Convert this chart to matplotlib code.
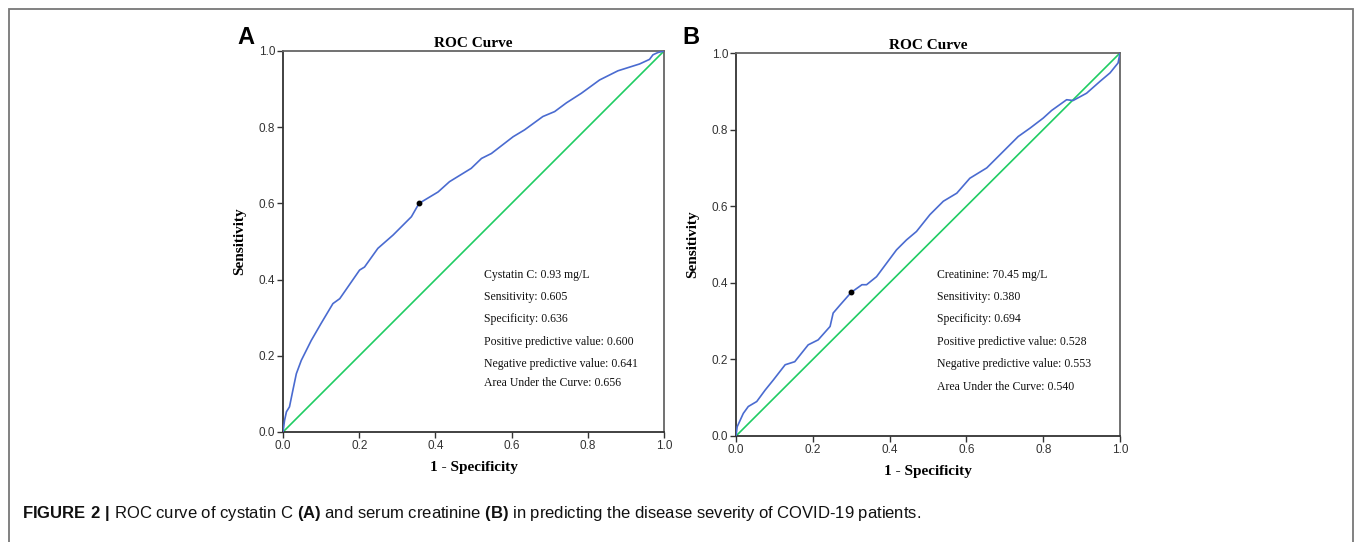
import matplotlib
matplotlib.use("Agg")
import matplotlib.pyplot as plt
from matplotlib.patches import Rectangle

# panel A: cystatin C
fpr_a = [0.0, 0.004, 0.009, 0.017, 0.026, 0.035, 0.048, 0.074, 0.1, 0.131, 0.149,
         0.201, 0.214, 0.249, 0.289, 0.337, 0.357, 0.407, 0.437, 0.494, 0.521,
         0.547, 0.604, 0.634, 0.682, 0.713, 0.744, 0.783, 0.831, 0.879, 0.936,
         0.962, 0.971, 0.984, 1.0]
tpr_a = [0.0, 0.03, 0.053, 0.066, 0.11, 0.153, 0.188, 0.24, 0.285, 0.337, 0.35,
         0.425, 0.433, 0.482, 0.517, 0.565, 0.6, 0.63, 0.657, 0.692, 0.718,
         0.731, 0.775, 0.793, 0.828, 0.841, 0.864, 0.889, 0.924, 0.948, 0.966,
         0.978, 0.99, 0.996, 1.0]
cut_a = (0.357, 0.600)
notes_a = ["Cystatin C: 0.93 mg/L", "Sensitivity: 0.605", "Specificity: 0.636",
           "Positive predictive value: 0.600", "Negative predictive value: 0.641",
           "Area Under the Curve: 0.656"]
note_y_a = [0.412, 0.354, 0.296, 0.236, 0.178, 0.128]

# panel B: serum creatinine
fpr_b = [0.0, 0.003, 0.019, 0.032, 0.054, 0.076, 0.097, 0.128, 0.153, 0.188,
         0.214, 0.245, 0.253, 0.271, 0.3, 0.328, 0.34, 0.366, 0.392, 0.418,
         0.444, 0.47, 0.505, 0.54, 0.575, 0.609, 0.653, 0.696, 0.735, 0.766,
         0.8, 0.822, 0.861, 0.878, 0.913, 0.948, 0.974, 0.995, 1.0]
tpr_b = [0.0, 0.024, 0.059, 0.077, 0.09, 0.12, 0.146, 0.186, 0.194, 0.238,
         0.251, 0.286, 0.321, 0.342, 0.375, 0.395, 0.395, 0.416, 0.451, 0.486,
         0.512, 0.534, 0.578, 0.613, 0.634, 0.673, 0.7, 0.743, 0.782, 0.804,
         0.83, 0.85, 0.878, 0.876, 0.895, 0.926, 0.948, 0.974, 1.0]
cut_b = (0.3, 0.375)
notes_b = ["Creatinine: 70.45 mg/L", "Sensitivity: 0.380", "Specificity: 0.694",
           "Positive predictive value: 0.528", "Negative predictive value: 0.553",
           "Area Under the Curve: 0.540"]
note_y_b = [0.420, 0.362, 0.305, 0.245, 0.187, 0.128]

diag = [0.0, 1.0]
ticks = [0.0, 0.2, 0.4, 0.6, 0.8, 1.0]
tick_labels = ["0.0", "0.2", "0.4", "0.6", "0.8", "1.0"]

serif = "Liberation Serif"
sans = "Liberation Sans"

plt.rcParams["mathtext.fontset"] = "custom"
plt.rcParams["mathtext.rm"] = sans
plt.rcParams["mathtext.bf"] = sans + ":bold"

W, H = 1355, 542
fig = plt.figure(figsize=(W / 100, H / 100), dpi=100)


def panel(rect, fpr, tpr, cut, notes, note_y, note_x, letter, letter_xy):
    ax = fig.add_axes(rect)
    ax.plot(diag, diag, color="#1fcc63", lw=1.2, zorder=2)
    ax.plot(fpr, tpr, color="#4a6bd0", lw=1.2, zorder=3)
    ax.plot([cut[0]], [cut[1]], "o", color="black", ms=3.2, zorder=4)
    ax.set_xlim(0, 1)
    ax.set_ylim(0, 1)
    ax.set_xticks(ticks)
    ax.set_yticks(ticks)
    ax.set_xticklabels(tick_labels, family=sans, fontsize=8.5, color="#333333")
    ax.set_yticklabels(tick_labels, family=sans, fontsize=8.5, color="#333333")
    ax.tick_params(direction="out", length=4, width=1, color="#333333", pad=1.5)
    for s in ax.spines.values():
        s.set_color("#666666")
        s.set_linewidth(1.3)
    ax.spines["left"].set_color("#333333")
    ax.spines["bottom"].set_color("#333333")
    ax.set_title("ROC Curve", family=serif, fontweight="bold", fontsize=11, pad=3)
    ax.set_xlabel("1 - Specificity", family=serif, fontweight="bold", fontsize=11, labelpad=7)
    ax.set_ylabel("Sensitivity", family=serif, fontweight="bold", fontsize=11, labelpad=9)
    for t, y in zip(notes, note_y):
        ax.text(note_x, y, t, family=serif, fontsize=8.5, color="#111111", va="center")
    fig.text(letter_xy[0] / W, 1 - letter_xy[1] / H, letter, family=sans,
             fontweight="bold", fontsize=17, ha="center", va="center")
    return ax


panel([283 / W, 1 - 432 / H, 381 / W, 381 / H], fpr_a, tpr_a, cut_a,
      notes_a, note_y_a, 0.528, "A", (246, 38))
panel([736 / W, 1 - 436 / H, 384 / W, 383 / H], fpr_b, tpr_b, cut_b,
      notes_b, note_y_b, 0.523, "B", (691, 38))

# outer frame (bottom edge cut off)
fig.patches.append(Rectangle((9 / W, -0.1), (1353 - 9) / W, 1.1 - 9 / H,
                             transform=fig.transFigure, fill=False,
                             edgecolor="#777777", lw=1.3))

caption = (r"$\bf{FIGURE\ 2\ |}$ ROC curve of cystatin C $\bf{(A)}$ and serum creatinine "
           r"$\bf{(B)}$ in predicting the disease severity of COVID-19 patients.")
fig.text(22 / W, 1 - 518 / H, caption, family=sans, fontsize=12,
         va="baseline", ha="left", color="#111111")

fig.savefig("out.png", dpi=100)
